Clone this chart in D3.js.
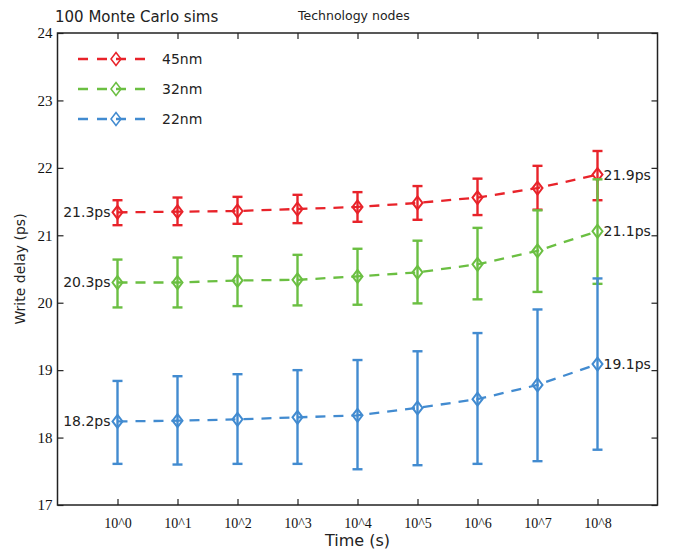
<!DOCTYPE html>
<html><head><meta charset="utf-8">
<script src="https://cdn.jsdelivr.net/npm/d3@7"></script>
<style>body{margin:0;background:#fff}svg{display:block}</style>
</head><body>
<script>
const times = ["10^0","10^1","10^2","10^3","10^4","10^5","10^6","10^7","10^8"];
const seriesNames = ["45nm","32nm","22nm"];
const mean45 = [21.34,21.35,21.36,21.39,21.42,21.48,21.56,21.70,21.90];
const lo45   = [21.15,21.15,21.17,21.18,21.20,21.23,21.30,21.38,21.52];
const hi45   = [21.52,21.56,21.57,21.60,21.64,21.73,21.84,22.03,22.25];
const mean32 = [20.30,20.30,20.33,20.34,20.39,20.45,20.57,20.77,21.06];
const lo32   = [19.93,19.93,19.95,19.96,19.97,19.99,20.05,20.16,20.28];
const hi32   = [20.64,20.67,20.69,20.71,20.80,20.92,21.11,21.37,21.83];
const mean22 = [18.24,18.25,18.27,18.30,18.33,18.44,18.57,18.78,19.09];
const lo22   = [17.61,17.60,17.61,17.61,17.53,17.59,17.61,17.65,17.82];
const hi22   = [18.84,18.91,18.94,19.00,19.15,19.28,19.55,19.90,20.36];
const startLabels = ["21.3ps","20.3ps","18.2ps"];
const endLabels = ["21.9ps","21.1ps","19.1ps"];
const yTicks = [17,18,19,20,21,22,23,24];
const colors = ["#e8232a","#6bbf42","#428bd0"];

const W=673,H=552;
const L=57.5,R=657.5,T=33,B=505;
const svg=d3.select("body").append("svg").attr("width",W).attr("height",H);
svg.append("rect").attr("width",W).attr("height",H).attr("fill","#fff");

const x=d3.scaleLinear().domain([-1,times.length]).range([L,R]);
const y=d3.scaleLinear().domain([17,24]).range([B,T]);
const idx=d3.range(times.length);

const serif="'Liberation Serif','Times New Roman',serif";
const sans="'DejaVu Sans',sans-serif";

// axes
const gB=svg.append("g").attr("transform",`translate(0,${B})`)
  .call(d3.axisBottom(x).tickValues(idx).tickFormat(i=>times[i]).tickSize(-6).tickSizeOuter(0).tickPadding(13));
const gT=svg.append("g").attr("transform",`translate(0,${T})`)
  .call(d3.axisTop(x).tickValues(idx).tickFormat("").tickSize(-6).tickSizeOuter(0));
const gL=svg.append("g").attr("transform",`translate(${L},0)`)
  .call(d3.axisLeft(y).tickValues(yTicks).tickFormat(d3.format("d")).tickSize(-6).tickSizeOuter(0).tickPadding(5));
const gR=svg.append("g").attr("transform",`translate(${R},0)`)
  .call(d3.axisRight(y).tickValues(yTicks).tickFormat("").tickSize(-6).tickSizeOuter(0));
[gB,gT,gL,gR].forEach(g=>{
  g.select(".domain").remove();
  g.selectAll(".tick line").attr("stroke","#222").attr("stroke-width",1.2);
  g.selectAll("text").attr("font-family",serif).attr("fill","#111");
});
gB.selectAll("text").attr("font-size",14);
gL.selectAll("text").attr("font-size",15).attr("dy","0.32em");
svg.append("rect").attr("x",L).attr("y",T).attr("width",R-L).attr("height",B-T)
  .attr("fill","none").attr("stroke","#222").attr("stroke-width",1.5);

// titles
svg.append("text").attr("x",55).attr("y",22).attr("font-family",sans).attr("font-size",15).attr("fill","#222").text("100 Monte Carlo sims");
svg.append("text").attr("x",298).attr("y",20).attr("font-family",sans).attr("font-size",12.5).attr("fill","#222").text("Technology nodes");
svg.append("text").attr("x",(L+R)/2).attr("y",546).attr("text-anchor","middle").attr("font-family",sans).attr("font-size",16).attr("fill","#222").text("Time (s)");
svg.append("text").attr("transform",`translate(25,${(T+B)/2})rotate(-90)`).attr("text-anchor","middle").attr("font-family",sans).attr("font-size",14).attr("fill","#222").text("Write delay (ps)");

const diamond=(cx,cy)=>`M${cx},${cy-6.5}L${cx+5},${cy}L${cx},${cy+6.5}L${cx-5},${cy}Z`;
const series=[[mean45,lo45,hi45],[mean32,lo32,hi32],[mean22,lo22,hi22]];
const line=d3.line().x(i=>x(i));

series.forEach(([m,lo,hi],s)=>{
  const c=colors[s];
  const g=svg.append("g");
  g.append("path").attr("d",line.y(i=>y(m[i]))(idx)).attr("fill","none").attr("stroke",c)
    .attr("stroke-width",2.3).attr("stroke-dasharray","10,8");
  idx.forEach(i=>{
    const cx=x(i);
    g.append("line").attr("x1",cx).attr("x2",cx).attr("y1",y(lo[i])).attr("y2",y(hi[i])).attr("stroke",c).attr("stroke-width",2.4);
    [lo[i],hi[i]].forEach(v=>g.append("line").attr("x1",cx-5).attr("x2",cx+5).attr("y1",y(v)).attr("y2",y(v)).attr("stroke",c).attr("stroke-width",2.4));
    g.append("path").attr("d",diamond(cx,y(m[i]))).attr("fill","none").attr("stroke",c).attr("stroke-width",2);
  });
  svg.append("text").attr("x",x(0)-7).attr("y",y(m[0])).attr("dy","0.35em").attr("text-anchor","end")
    .attr("font-family",sans).attr("font-size",14).attr("fill","#222").text(startLabels[s]);
  const last=times.length-1;
  svg.append("text").attr("x",x(last)+6).attr("y",y(m[last])).attr("dy","0.35em")
    .attr("font-family",sans).attr("font-size",14).attr("fill","#222").text(endLabels[s]);
});

// legend
seriesNames.forEach((n,s)=>{
  const ly=59+30*s, c=colors[s];
  svg.append("line").attr("x1",78).attr("x2",145).attr("y1",ly).attr("y2",ly).attr("stroke",c)
    .attr("stroke-width",2.3).attr("stroke-dasharray","10,9");
  svg.append("path").attr("d",diamond(116,ly)).attr("fill","none").attr("stroke",c).attr("stroke-width",1.5);
  svg.append("text").attr("x",162).attr("y",ly).attr("dy","0.35em").attr("font-family",sans).attr("font-size",14).attr("fill","#222").text(n);
});
</script>
</body></html>
